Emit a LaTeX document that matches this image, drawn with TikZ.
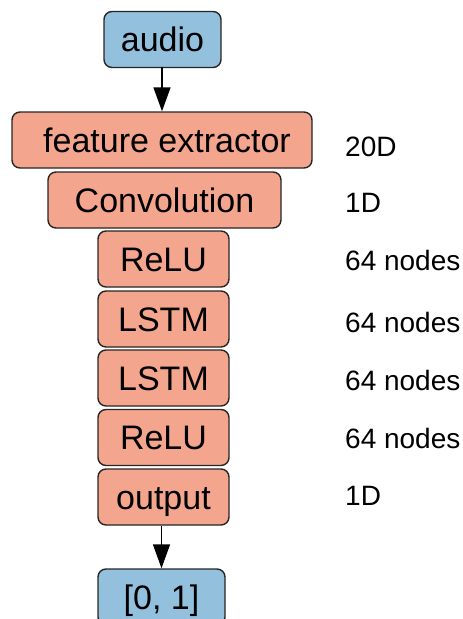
\documentclass[tikz,border=0pt]{standalone}
\usepackage{fontspec}
\setmainfont{Liberation Sans}
\usetikzlibrary{arrows.meta}
\definecolor{inblue}{RGB}{146,192,221}
\definecolor{layersalmon}{RGB}{244,165,141}
\tikzset{
  x=1pt, y=-1pt,
  block/.style={draw=black!85, line width=1.4pt, rounded corners=8pt,
    minimum height=56pt, inner sep=0pt, anchor=center,
    font=\fontsize{34}{36}\selectfont, text height=30pt, text depth=6pt},
  layer/.style={block, fill=layersalmon},
  io/.style={block, fill=inblue},
  dimlabel/.style={anchor=base west, inner sep=0pt,
    font=\fontsize{28}{30}\selectfont},
  flow/.style={line width=1.4pt, -{Triangle[length=24pt,width=17pt]}}
}
\begin{document}
\begin{tikzpicture}
\useasboundingbox (0,0) rectangle (463,619);
\clip (0,0) rectangle (463,619);
% network stack
\node[io, minimum width=117pt] (audio) at (162.5,39.5) {audio};
\node[layer, minimum width=300pt] (feat) at (162,140) {\hspace*{10pt}feature extractor};
\node[layer, minimum width=233pt] (conv) at (164.5,200) {Convolution};
\node[layer, minimum width=131pt] (relua) at (163.5,259) {ReLU};
\node[layer, minimum width=131pt] (lstma) at (163.5,319) {LSTM};
\node[layer, minimum width=131pt] (lstmb) at (163.5,378) {LSTM};
\node[layer, minimum width=131pt] (relub) at (163.5,437.5) {ReLU};
\node[layer, minimum width=131pt] (out) at (163.5,497) {output};
\node[io, minimum width=127pt] (res) at (161.5,597) {[0, 1]};
% arrows in and out
\coordinate (ain) at (162,67);
\draw[flow] (ain) -- (feat.north -| ain);
\draw[flow] (out.south -| res.north) -- (res.north);
% layer sizes
\node[dimlabel] (d1) at (345,156) {20D};
\node[dimlabel] (d2) at (345,212) {1D};
\node[dimlabel] (d3) at (345,270) {64 nodes};
\node[dimlabel] (d4) at (345,332) {64 nodes};
\node[dimlabel] (d5) at (345,390) {64 nodes};
\node[dimlabel] (d6) at (345,448) {64 nodes};
\node[dimlabel] (d7) at (345,505) {1D};
\end{tikzpicture}
\end{document}
